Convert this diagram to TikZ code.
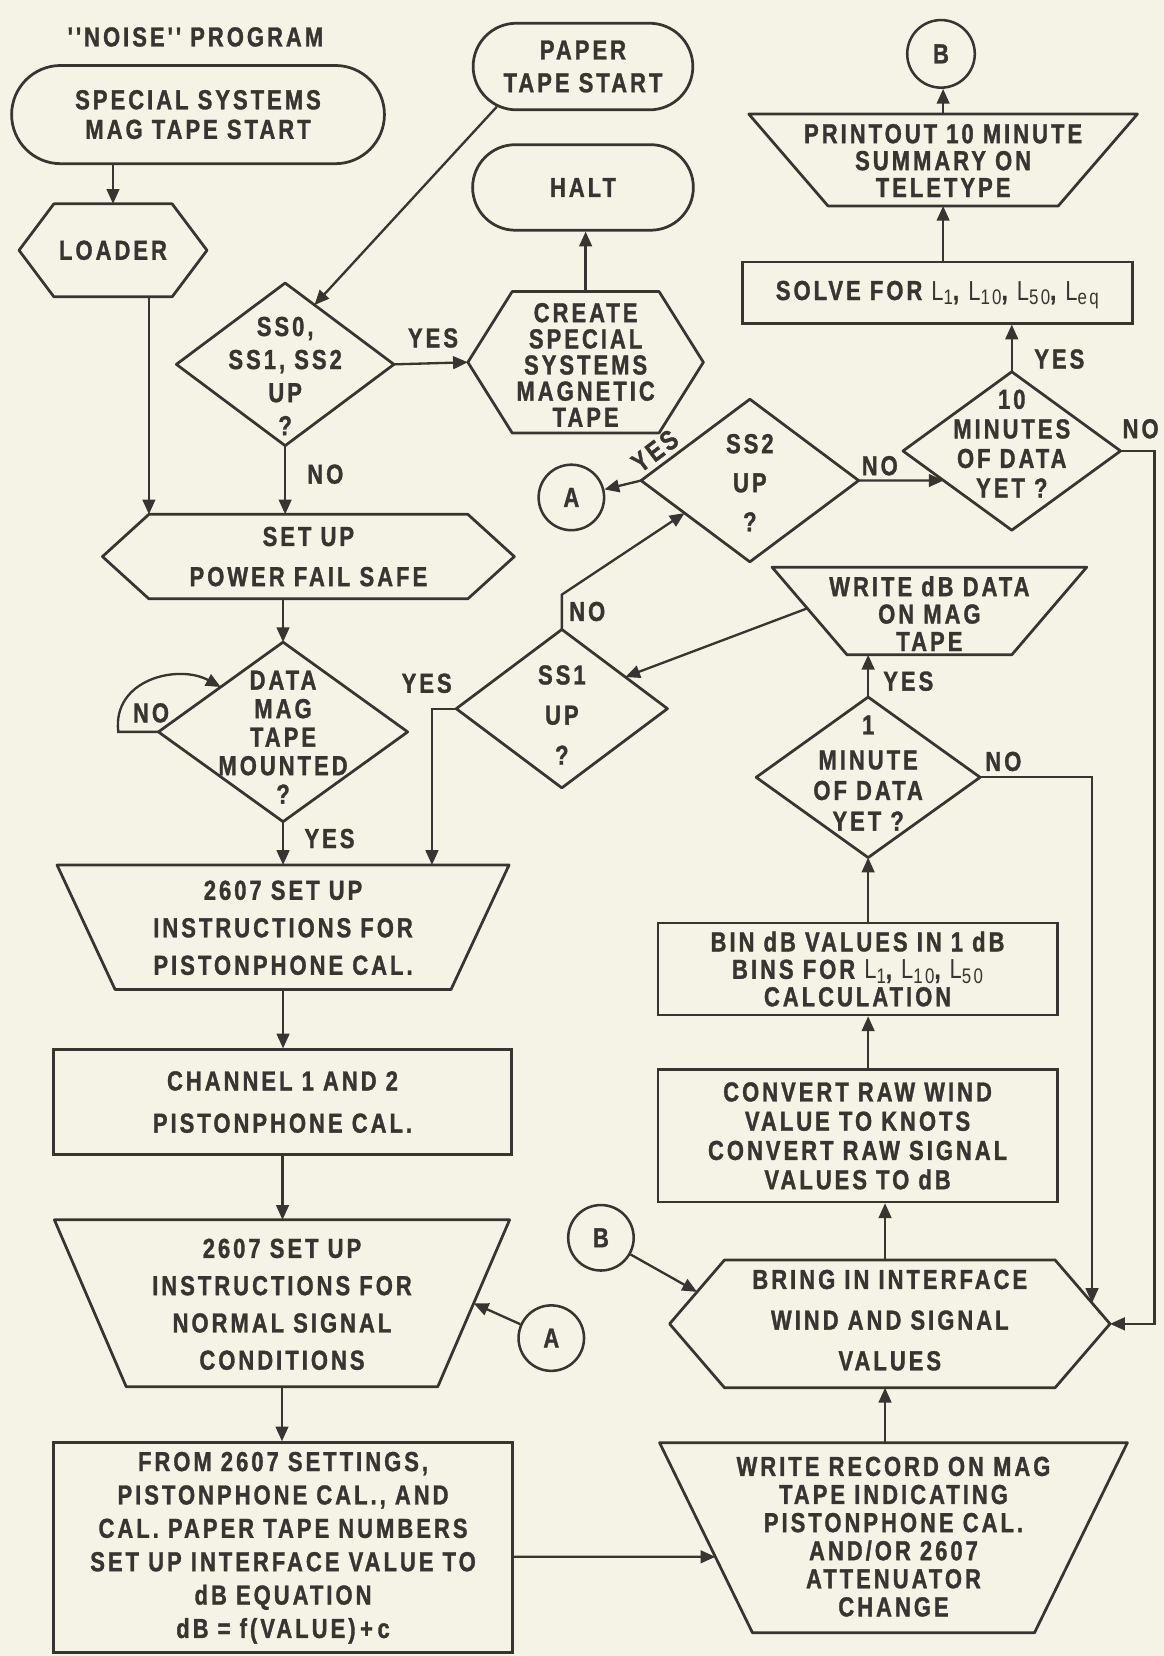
\documentclass[tikz,border=0pt]{standalone}
\usepackage{fontspec}
\usetikzlibrary{shapes.misc,arrows.meta,calc}
\newfontfamily\labfont{Liberation Sans}[FakeStretch=0.8,LetterSpace=11,BoldFeatures={FakeBold=1.2}]
\definecolor{bg}{RGB}{245,243,230}
\definecolor{ink}{RGB}{55,52,50}
\newcommand\Ls[1]{{\mdseries L\smash{\raisebox{-0.3ex}{\fontsize{20pt}{20pt}\selectfont #1}}}}
\newcommand\mkhex[2]{\draw[shp] (#1.west) -- ([xshift=#2pt]#1.north west) coordinate (#1-tl) -- ([xshift=-#2pt]#1.north east) coordinate (#1-tr) -- (#1.east) -- ([xshift=-#2pt]#1.south east) coordinate (#1-br) -- ([xshift=#2pt]#1.south west) coordinate (#1-bl) -- cycle;}
\newcommand\mktrap[2]{\draw[shp] (#1.north west) coordinate (#1-tl) -- (#1.north east) coordinate (#1-tr) -- ([xshift=-#2pt]#1.south east) coordinate (#1-br) -- ([xshift=#2pt]#1.south west) coordinate (#1-bl) -- cycle;}
\newcommand\mkdia[1]{\draw[shp] (#1.north) -- (#1.east) -- (#1.south) -- (#1.west) -- cycle;}
\begin{document}
\begin{tikzpicture}[x=1pt,y=-1pt,
  tx/.style={inner sep=0pt, align=center, text=ink, font=\labfont\bfseries\fontsize{26pt}{#1pt}\selectfont},
  tx/.default=30,
  fr/.style={rectangle, inner sep=0pt, outer sep=0pt},
  shp/.style={draw=ink, line width=2.6pt, line join=round},
  box/.style={rectangle, draw=ink, line width=2.6pt},
  term/.style={rounded rectangle, draw=ink, line width=2.6pt},
  conn/.style={circle, draw=ink, line width=2.4pt, minimum size=62pt, tx},
  arr/.style={draw=ink, line width=2.2pt, -{Triangle[length=14pt,width=12pt]}},
]
\fill[bg] (0,0) rectangle (1102,1568);
\useasboundingbox (0,0) rectangle (1102,1568);

% ---------- left column ----------
\node[tx] (title) at (185,35) {''NOISE'' PROGRAM};
\node[term, tx=28, minimum width=353pt, minimum height=93pt] (t1) at (187.5,108.5) {SPECIAL SYSTEMS\\MAG TAPE START};

\node[fr, minimum width=178pt, minimum height=88pt] (ld) at (107,237) {};
\mkhex{ld}{33}
\node[tx] (ldt) at (107,237) {LOADER};

\node[term, tx=31, minimum width=208pt, minimum height=82pt] (pts) at (552,63) {PAPER\\TAPE START};
\node[term, tx, minimum width=209pt, minimum height=81pt] (hlt) at (552,177.5) {HALT};

\node[fr, minimum width=223pt, minimum height=134pt] (cr) at (554.5,343) {};
\mkhex{cr}{42}
\node[tx=24.75] (crt) at (554.5,345.5) {CREATE\\SPECIAL\\SYSTEMS\\MAGNETIC\\TAPE};

\node[fr, minimum width=206pt, minimum height=154pt] (s0) at (270,345) {};
\mkdia{s0}
\node[tx=31.3] (s0t) at (270,356) {SS0,\\SS1, SS2\\UP\\?};

\node[fr, minimum width=390pt, minimum height=80pt] (pfs) at (292,527) {};
\mkhex{pfs}{44}
\node[tx=38] (pfst) at (292,527) {SET UP\\POWER FAIL SAFE};

\node[fr, minimum width=236pt, minimum height=170pt] (dm) at (268,693) {};
\mkdia{dm}
\node[tx=27] (dmt) at (268,698) {DATA\\MAG\\TAPE\\MOUNTED\\?};

\node[fr, minimum width=428pt, minimum height=118pt] (i1) at (268,878) {};
\mktrap{i1}{55}
\node[tx=35.5] (i1t) at (268,878.5) {2607 SET UP\\INSTRUCTIONS FOR\\PISTONPHONE CAL.};

\node[box, tx=40, minimum width=433pt, minimum height=99pt] (ch) at (267.5,1043.5) {CHANNEL 1 AND 2\\PISTONPHONE CAL.};

\node[fr, minimum width=431pt, minimum height=158pt] (i2) at (267,1234) {};
\mktrap{i2}{68}
\node[tx=35.3] (i2t) at (267,1235) {2607 SET UP\\INSTRUCTIONS FOR\\NORMAL SIGNAL\\CONDITIONS};

\node[box, tx=31.6, minimum width=434pt, minimum height=199pt] (fb) at (268,1465.5) {FROM 2607 SETTINGS,\\PISTONPHONE CAL., AND\\CAL. PAPER TAPE NUMBERS\\SET UP INTERFACE VALUE TO\\dB EQUATION\\dB = f(VALUE)\,+\,c};

\node[conn] (a1) at (522,1267) {A};
\node[conn] (b1) at (569,1172) {B};
\node[conn] (a2) at (541,471) {A};
\node[conn, minimum size=64pt] (b2) at (891,51) {B};

% ---------- right column ----------
\node[fr, minimum width=443pt, minimum height=180pt] (wr) at (846,1456) {};
\mktrap{wr}{88}
\node[tx=26.6] (wrt) at (846,1455) {WRITE RECORD ON MAG\\TAPE INDICATING\\PISTONPHONE CAL.\\AND/OR 2607\\ATTENUATOR\\CHANGE};

\node[fr, minimum width=417pt, minimum height=121pt] (bi) at (842.5,1253.5) {};
\mkhex{bi}{52}
\node[tx=38.5] (bit) at (842.5,1250) {BRING IN INTERFACE\\WIND AND SIGNAL\\VALUES};

\node[box, tx=27.7, minimum width=378pt, minimum height=125pt] (cv) at (812,1075.5) {CONVERT RAW WIND\\VALUE TO KNOTS\\CONVERT RAW SIGNAL\\VALUES TO dB};

\node[box, tx=26, minimum width=378pt, minimum height=87pt] (bn) at (812,917.5) {BIN dB VALUES IN 1 dB\\BINS FOR \Ls{1}, \Ls{10}, \Ls{50}\\CALCULATION};

\node[fr, minimum width=212pt, minimum height=152pt] (m1) at (822,736) {};
\mkdia{m1}
\node[tx=29] (m1t) at (822,732) {1\\[4pt]MINUTE\\OF DATA\\YET ?};

\node[fr, minimum width=298pt, minimum height=83pt] (wd) at (880,578.5) {};
\mktrap{wd}{71}
\node[tx=26] (wdt) at (880,581) {WRITE dB DATA\\ON MAG\\TAPE};

\node[fr, minimum width=200pt, minimum height=150pt] (s1) at (532,671) {};
\mkdia{s1}
\node[tx=38] (s1t) at (532,677) {SS1\\UP\\?};

\node[fr, minimum width=206pt, minimum height=154pt] (s2) at (710,455) {};
\mkdia{s2}
\node[tx=37] (s2t) at (710,457) {SS2\\UP\\?};

\node[fr, minimum width=206pt, minimum height=150pt] (m10) at (958,427) {};
\mkdia{m10}
\node[tx=28] (m10t) at (958,420) {10\\MINUTES\\OF DATA\\YET ?};

\node[box, tx, minimum width=369pt, minimum height=58pt] (sv) at (887.5,277) {SOLVE FOR \Ls{1}, \Ls{10}, \Ls{50}, \Ls{eq}};

\node[fr, minimum width=368pt, minimum height=87pt] (po) at (893,151.5) {};
\mktrap{po}{75}
\node[tx=25.5] (pot) at (893,152) {PRINTOUT 10 MINUTE\\SUMMARY ON\\TELETYPE};

% ---------- labels ----------
\node[tx] (y1) at (410,320) {YES};
\node[tx] (n1) at (308,449) {NO};
\node[tx] (n2) at (143,675) {NO};
\node[tx] (y2) at (312,794) {YES};
\node[tx] (y3) at (404,647) {YES};
\node[tx] (n3) at (556,579) {NO};
\node[tx, rotate=37] (y4) at (620,427) {YES};
\node[tx] (n4) at (833,441) {NO};
\node[tx] (n6) at (1080,406) {NO};
\node[tx] (y6) at (1003,340) {YES};
\node[tx] (y5) at (860,645) {YES};
\node[tx] (n5) at (950,721) {NO};

% ---------- connectors ----------
\draw[arr] (t1.south -| ld.north) -- (ld.north);
\draw[arr] (ld.south -| pfs-tl) -- (pfs-tl);
\draw[arr] (s0.east) -- (cr.west);
\draw[arr] (pts.205) -- ($(s0.north)!0.27!(s0.east)$);
\draw[arr] (s0.south) -- (s0.south |- pfs.north);
\draw[arr] (cr.north) -- (cr.north |- hlt.south);
\draw[arr] (pfs.south -| dm.north) -- (dm.north);
\draw[arr] (dm.west) -- ++(-38,0) .. controls +(-6,-50) and +(-40,-22) .. ($(dm.west)!0.5!(dm.north)$);
\draw[arr] (dm.south) -- (dm.south |- i1.north);
\draw[arr] (s1.west) -| ([xshift=141pt]i1.north);
\draw[arr] (i1.south) -- (i1.south |- ch.north);
\draw[arr] (ch.south) -- (ch.south |- i2.north);
\draw[arr] (i2.south) -- (i2.south |- fb.north);
\draw[arr] (a1) -- ($(i2-tr)!0.5!(i2-br)$);
\coordinate (fbo) at ([yshift=-8.5pt]fb.east);
\coordinate (fbe) at (fbo -| wr.east);
\draw[arr] (fbo) -- (intersection of fbo--fbe and wr-tl--wr-bl);
\draw[arr] (b1) -- ($(bi.west)!0.5!(bi-tl)$);
\draw[arr] ([xshift=-8pt]wr.north) -- ([xshift=-8pt]wr.north |- bi.south);
\draw[arr] ([xshift=-4.5pt]bi.north) -- ([xshift=-4.5pt]bi.north |- cv.south);
\draw[arr] ([xshift=10pt]cv.north) -- ([xshift=10pt]bn.south);
\draw[arr] ([xshift=10pt]bn.north) -- (m1.south);
\draw[arr] (m1.north) -- (m1.north |- wd.south);
\draw[arr] (m1.east) -| ($(bi-tr)!0.673!(bi.east)$);
\draw[arr] ($(wd-tl)!0.47!(wd-bl)$) -- ($(s1.north)!0.6!(s1.east)$);
\draw[arr] (s1.north) -- ++(0,-33) -- ($(s2.west)!0.4!(s2.south)$);
\draw[arr] (s2.west) -- (a2);
\draw[arr] (s2.east) -- ($(m10.west)!0.373!(m10.south)$);
\draw[arr] (m10.north) -- (m10.north |- sv.south);
\draw[arr] (m10.east) -| ([xshift=42pt]bi.east) -- (bi.east);
\draw[arr] (po.south |- sv.north) -- (po.south);
\draw[arr] (po.north) -- (po.north |- b2.south);
\end{tikzpicture}
\end{document}
